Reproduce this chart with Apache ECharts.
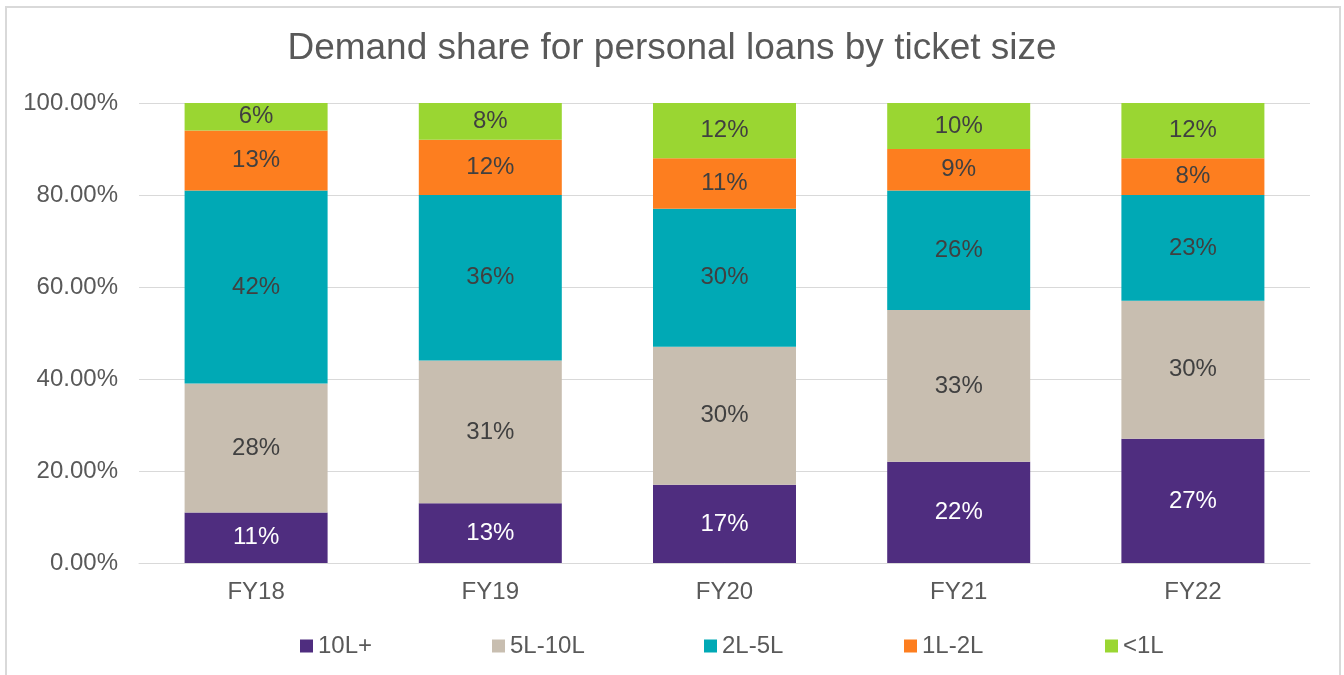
<!DOCTYPE html>
<html>
<head>
<meta charset="utf-8">
<script src="https://cdn.jsdelivr.net/npm/echarts@6/dist/echarts.min.js"></script>
<style>
html,body{margin:0;padding:0;background:#fff;}
#main{width:1344px;height:675px;}
</style>
</head>
<body>
<div id="main"></div>
<script>
var years=['FY18','FY19','FY20','FY21','FY22'];
var seriesNames=['10L+','5L-10L','2L-5L','1L-2L','<1L'];
var v10Lplus=[11,13,17,22,27];
var v5to10=[28,31,30,33,30];
var v2to5=[42,36,30,26,23];
var v1to2=[13,12,11,9,8];
var vBelow1=[6,8,12,10,12];
var yTicks=[0,20,40,60,80,100];

var colors=['#4F2D7F','#C8BEB0','#00A9B5','#FD7E1F','#9AD632'];
var allData=[v10Lplus,v5to10,v2to5,v1to2,vBelow1];
var legendLeft=[295,487,699,899,1100];

var font='"Liberation Sans", Arial, sans-serif';

var myChart=echarts.init(document.getElementById('main'));

var series=[];
for(var i=0;i<seriesNames.length;i++){
	series.push({
		name:seriesNames[i],
		type:'bar',
		stack:'total',
		barWidth:143,
		data:allData[i],
		itemStyle:{color:colors[i]},
		label:{
			show:true,
			position:'inside',
			formatter:'{c}%',
			fontFamily:font,
			fontSize:24,
			color:i==0?'#ffffff':'#404040'
		}
	});
}

// 每个图例单独定位，模仿原图不等间距
var legends=[];
for(var j=0;j<seriesNames.length;j++){
	legends.push({
		data:[seriesNames[j]],
		left:legendLeft[j],
		top:629,
		itemWidth:13,
		itemHeight:13,
		itemGap:5,
		icon:'rect',
		textStyle:{fontFamily:font,fontSize:24,color:'#595959',padding:[0,0,0,0]}
	});
}

var option={
	animation:false,
	graphic:[{
		type:'rect',
		shape:{x:6,y:7,width:1334,height:700},
		style:{fill:'none',stroke:'#d9d9d9',lineWidth:2},
		silent:true
	}],
	title:{
		text:'Demand share for personal loans by ticket size',
		left:'center',
		top:25,
		textStyle:{fontFamily:font,fontSize:37,fontWeight:'normal',color:'#595959'}
	},
	legend:legends,
	grid:{left:139,right:34,top:103,bottom:112,containLabel:false},
	xAxis:{
		type:'category',
		data:years,
		axisLine:{lineStyle:{color:'#d9d9d9',width:1}},
		axisTick:{show:false},
		axisLabel:{fontFamily:font,fontSize:24,color:'#595959',margin:17}
	},
	yAxis:{
		type:'value',
		min:yTicks[0],
		max:yTicks[yTicks.length-1],
		interval:yTicks[1]-yTicks[0],
		axisLine:{show:false},
		axisTick:{show:false},
		splitLine:{lineStyle:{color:'#d9d9d9',width:1}},
		axisLabel:{
			fontFamily:font,fontSize:24,color:'#595959',margin:21,
			formatter:function(v){return v.toFixed(2)+'%';}
		}
	},
	series:series
};

myChart.setOption(option);
</script>
</body>
</html>
